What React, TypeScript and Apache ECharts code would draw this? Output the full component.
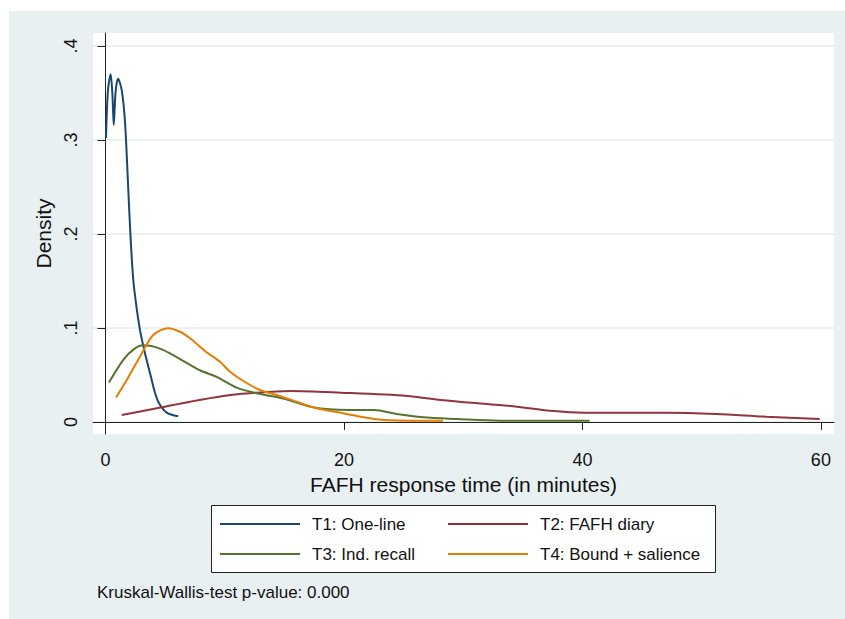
import React, { useEffect, useRef } from "react";
import * as echarts from "echarts";

// Kernel density estimates of response time (minutes) by treatment
const seriesNames = ["T1: One-line", "T2: FAFH diary", "T3: Ind. recall", "T4: Bound + salience"];
const seriesColors = ["#1a476f", "#90353b", "#55752f", "#e37e00"];

const t1OneLine: [number, number][] = [
  [0.04, 0.302], [0.2, 0.352], [0.43, 0.37], [0.58, 0.348], [0.69, 0.316], [0.85, 0.352],
  [1.05, 0.365], [1.36, 0.353], [1.64, 0.318], [1.91, 0.247], [2.11, 0.194], [2.33, 0.151],
  [2.56, 0.126], [2.89, 0.098], [3.31, 0.073], [3.73, 0.052], [4.15, 0.031], [4.49, 0.02],
  [5.13, 0.01], [6.1, 0.006],
];
const t2Diary: [number, number][] = [
  [1.36, 0.0074], [4.29, 0.0145], [7.09, 0.0216], [9.88, 0.0277], [12.1, 0.0305], [15.5, 0.033],
  [19.7, 0.0312], [25.3, 0.0277], [28.1, 0.0234], [32.2, 0.0188], [34.5, 0.0163], [37.3, 0.012],
  [40.1, 0.0099], [47.1, 0.0099], [51.25, 0.0085], [55.4, 0.0056], [59.9, 0.0032],
];
const t3Recall: [number, number][] = [
  [0.29, 0.042], [1.49, 0.066], [2.33, 0.077], [3.17, 0.0815], [4.57, 0.078], [5.97, 0.069],
  [7.92, 0.055], [9.32, 0.048], [11.0, 0.0365], [12.7, 0.0305], [14.9, 0.025], [17.15, 0.0163],
  [18.8, 0.0135], [20.5, 0.0128], [22.5, 0.0128], [24.4, 0.0085], [26.65, 0.005], [29.45, 0.0032],
  [33.1, 0.0014], [40.6, 0.0014],
];
const t4Bound: [number, number][] = [
  [0.88, 0.026], [1.78, 0.0447], [2.89, 0.0695], [4.0, 0.0926], [5.27, 0.0997], [6.25, 0.096],
  [7.09, 0.089], [8.34, 0.0755], [9.6, 0.064], [10.44, 0.0535], [11.56, 0.0436], [12.96, 0.034],
  [14.6, 0.0277], [16.0, 0.0216], [17.7, 0.0146], [19.9, 0.0093], [22.5, 0.0032], [25.3, 0.0014],
  [28.3, 0.0014],
];

const xTicks = [0, 20, 40, 60];
const yTicks = [0, 0.1, 0.2, 0.3, 0.4];
const xTitle = "FAFH response time (in minutes)";
const yTitle = "Density";
const noteText = "Kruskal-Wallis-test p-value: 0.000";

const FONT = "'Liberation Sans', Arial, Helvetica, sans-serif";
const PANEL = "#e9f0f2";
const INK = "#111111";

export default function App() {
  const ref = useRef<HTMLDivElement>(null);

  useEffect(() => {
    if (!ref.current) return;
    const chart = echarts.init(ref.current, undefined, { renderer: "svg" });
    const allData = [t1OneLine, t2Diary, t3Recall, t4Bound];

    const legendCommon = {
      orient: "vertical" as const,
      top: 514,
      padding: 0,
      itemWidth: 80,
      itemHeight: 2,
      itemGap: 10,
      icon: "rect",
      textStyle: {
        fontFamily: FONT,
        fontSize: 17,
        color: INK,
        lineHeight: 20,
        padding: [0, 0, 0, 7],
      },
    };

    chart.setOption({
      animation: false,
      backgroundColor: "#ffffff",
      textStyle: { fontFamily: FONT },
      title: {
        text: noteText,
        left: 97,
        top: 584,
        padding: 0,
        textStyle: { fontFamily: FONT, fontSize: 17, fontWeight: "normal", color: INK },
      },
      graphic: [
        {
          type: "rect",
          z: -10,
          shape: { x: 9, y: 11, width: 836, height: 608 },
          style: { fill: PANEL },
        },
        {
          type: "rect",
          z: 1,
          shape: { x: 211.5, y: 505.5, width: 504, height: 67 },
          style: { fill: "#ffffff", stroke: "#222222", lineWidth: 1 },
        },
      ],
      legend: [
        { ...legendCommon, left: 220, data: [seriesNames[0], seriesNames[2]] },
        { ...legendCommon, left: 448, data: [seriesNames[1], seriesNames[3]] },
      ],
      grid: {
        left: 93,
        right: 11,
        top: 33,
        bottom: 185,
        show: true,
        backgroundColor: "#ffffff",
        borderWidth: 0,
      },
      xAxis: {
        type: "value",
        min: -1.05,
        max: 61.1,
        name: xTitle,
        nameLocation: "middle",
        nameGap: 33,
        nameTextStyle: { fontFamily: FONT, fontSize: 21, color: INK },
        axisLine: { show: true, lineStyle: { color: "#222222", width: 1 } },
        axisTick: { show: true, length: 8, customValues: xTicks, lineStyle: { color: "#222222" } },
        axisLabel: {
          customValues: xTicks,
          margin: 17,
          fontSize: 18,
          fontFamily: FONT,
          color: INK,
        },
        splitLine: { show: false },
      },
      yAxis: {
        type: "value",
        min: -0.0128,
        max: 0.4138,
        name: yTitle,
        nameLocation: "middle",
        nameGap: 38,
        nameRotate: 90,
        nameTextStyle: { fontFamily: FONT, fontSize: 21, color: INK },
        axisLine: { show: true, lineStyle: { color: "#222222", width: 1 } },
        axisTick: { show: true, length: 8, customValues: yTicks, lineStyle: { color: "#222222" } },
        axisLabel: {
          customValues: yTicks,
          rotate: 90,
          margin: 13,
          fontSize: 18,
          fontFamily: FONT,
          color: INK,
          formatter: (v: number) => (v === 0 ? "0" : "." + Math.round(v * 10)),
        },
        splitLine: { show: true, lineStyle: { color: "#e6eef1", width: 1.5 } },
      },
      series: allData.map((d, i) => ({
        name: seriesNames[i],
        type: "line",
        data: d,
        smooth: 0.3,
        showSymbol: false,
        symbol: "none",
        color: seriesColors[i],
        lineStyle: { color: seriesColors[i], width: 2 },
        itemStyle: { color: seriesColors[i] },
      })),
    });

    return () => chart.dispose();
  }, []);

  return (
    <div
      ref={ref}
      style={{ position: "absolute", left: 0, top: 0, width: 845, height: 619 }}
    />
  );
}
